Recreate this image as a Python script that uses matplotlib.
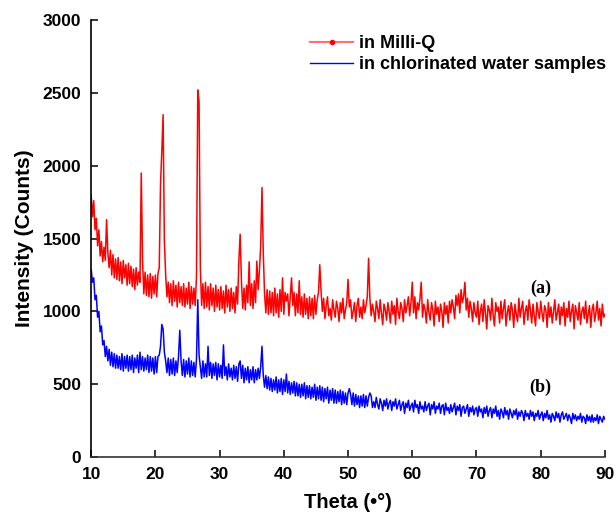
#!/usr/bin/env python3
"""XRD patterns: sample in Milli-Q vs in chlorinated water samples."""

import matplotlib

matplotlib.use("Agg")
import matplotlib.pyplot as plt
from matplotlib.lines import Line2D
import numpy as np

plt.rcParams["font.family"] = ["Liberation Sans", "DejaVu Sans"]

# 2-theta grid of the scan, 0.2 degree step from 10 to 90
THETA_START, THETA_STOP, THETA_STEP = 10.0, 90.0, 0.2

# (a) in Milli-Q, counts, one row = 2 degrees
milliq = [
    1800, 1650, 1760, 1560, 1640, 1450, 1560, 1380, 1480, 1340,
    1440, 1350, 1630, 1400, 1300, 1420, 1250, 1390, 1230, 1360,
    1220, 1370, 1210, 1340, 1190, 1350, 1230, 1320, 1180, 1330,
    1190, 1310, 1170, 1290, 1150, 1300, 1180, 1270, 1200, 1950,
    1350, 1120, 1270, 1110, 1250, 1100, 1260, 1090, 1240, 1120,
    1250, 1100, 1260, 1300, 1870, 2100, 2350, 1480, 1250, 1100,
    1200, 1060, 1190, 1040, 1210, 1070, 1180, 1030, 1200, 1060,
    1170, 1040, 1190, 1030, 1160, 1050, 1200, 1020, 1170, 1050,
    1160, 1040, 1240, 2520, 2440, 1300, 1040, 1190, 1020, 1200,
    1030, 1170, 1010, 1190, 1040, 1160, 1000, 1180, 1030, 1150,
    1010, 1170, 1020, 1140, 990, 1180, 1030, 1150, 1000, 1160,
    1020, 1130, 990, 1170, 1050, 1350, 1530, 1210, 1020, 1160,
    1010, 1180, 1060, 1340, 1040, 1190, 1020, 1210, 1060, 1345,
    1150, 1280, 1450, 1850, 1400, 1120, 990, 1150, 980, 1140,
    990, 1130, 970, 1160, 990, 1120, 960, 1150, 1000, 1230,
    980, 1130, 1070, 1120, 970, 1100, 1230, 1040, 1130, 970,
    1120, 990, 1210, 980, 1100, 960, 1120, 980, 1090, 950,
    1100, 970, 1090, 950, 1110, 980, 1080, 1130, 1320, 1140,
    1000, 1090, 950, 1040, 1100, 970, 1020, 940, 1080, 1010,
    960, 1070, 1020, 930, 1060, 990, 1090, 950, 1010, 1060,
    1220, 1030, 1080, 950, 1000, 1060, 930, 1040, 1090, 960,
    1030, 950, 1080, 990, 1040, 1100, 1365, 1090, 970, 1050,
    1000, 930, 1070, 1020, 950, 1080, 990, 910, 1050, 1010,
    940, 1060, 1000, 920, 1070, 980, 1040, 910, 1090, 1000,
    950, 1060, 1020, 930, 1080, 990, 1040, 1100, 970, 1060,
    1200, 990, 1100, 950, 1060, 1010, 1090, 1200, 960, 1050,
    1010, 920, 1080, 990, 940, 1060, 1010, 900, 1070, 980,
    1030, 930, 1050, 1000, 890, 1060, 980, 1040, 920, 1070,
    990, 1080, 1030, 950, 1110, 1040, 1120, 990, 1150, 1060,
    1100, 1200, 1010, 1090, 960, 1070, 1020, 930, 1060, 990,
    960, 1070, 910, 1000, 1050, 930, 1080, 990, 880, 1040,
    1010, 940, 1090, 970, 900, 1060, 1000, 1030, 920, 1070,
    950, 1020, 1080, 900, 990, 1040, 940, 1060, 1010, 890,
    1050, 980, 930, 1090, 960, 1020, 1070, 910, 1000, 1040,
    940, 1080, 1010, 920, 1050, 970, 900, 1060, 1000, 950,
    1070, 990, 930, 1040, 1010, 890, 1060, 960, 1030, 920,
    1000, 1080, 940, 990, 1050, 910, 1030, 970, 1060, 900,
    1020, 960, 1070, 930, 1000, 1050, 880, 1040, 990, 940,
    1060, 910, 1000, 1030, 950, 1070, 920, 980, 1040, 890,
    1010, 1050, 930, 990, 1070, 940, 1020, 900, 1050, 960,
    980,
]

# (b) in chlorinated water samples
chlorinated = [
    1290, 1200, 1230, 1080, 1110, 960, 1000, 860, 900, 770,
    800, 690, 760, 660, 740, 630, 720, 620, 710, 610,
    700, 610, 690, 600, 710, 590, 690, 610, 700, 590,
    690, 600, 700, 580, 680, 610, 700, 580, 720, 600,
    690, 590, 680, 600, 700, 580, 690, 590, 680, 570,
    690, 580, 690, 700, 760, 910, 880, 720, 660, 580,
    680, 560, 670, 570, 680, 560, 660, 580, 690, 870,
    660, 560, 670, 550, 660, 570, 680, 550, 660, 560,
    650, 550, 670, 1080, 700, 620, 540, 660, 550, 640,
    550, 760, 560, 650, 540, 640, 560, 650, 530, 640,
    550, 630, 540, 770, 560, 620, 530, 640, 550, 610,
    530, 630, 540, 620, 520, 640, 660, 540, 630, 510,
    610, 530, 620, 510, 600, 530, 620, 510, 600, 530,
    610, 540, 620, 760, 560, 480, 560, 470, 550, 460,
    540, 450, 530, 460, 550, 440, 530, 450, 540, 430,
    530, 450, 570, 440, 520, 430, 510, 440, 520, 420,
    510, 420, 500, 410, 500, 420, 510, 400, 490, 410,
    490, 400, 480, 410, 500, 390, 480, 400, 490, 390,
    480, 380, 470, 400, 480, 370, 460, 390, 470, 370,
    460, 370, 450, 380, 460, 360, 450, 370, 440, 360,
    440, 470, 430, 360, 440, 350, 430, 360, 420, 340,
    420, 350, 430, 340, 420, 350, 410, 440, 420, 340,
    380, 340, 410, 360, 330, 400, 370, 320, 390, 350,
    400, 330, 370, 390, 320, 380, 350, 400, 330, 360,
    390, 320, 360, 380, 300, 370, 340, 390, 320, 350,
    370, 310, 390, 340, 360, 300, 380, 330, 350, 310,
    380, 320, 350, 370, 290, 360, 330, 380, 300, 350,
    330, 370, 300, 350, 360, 290, 370, 320, 340, 300,
    360, 310, 340, 370, 290, 350, 320, 360, 280, 340,
    350, 300, 330, 360, 280, 340, 310, 350, 290, 330,
    340, 280, 350, 310, 330, 270, 340, 300, 350, 280,
    320, 340, 270, 330, 300, 350, 280, 320, 260, 330,
    310, 270, 340, 290, 320, 260, 330, 300, 270, 320,
    290, 330, 260, 310, 280, 320, 300, 250, 320, 280,
    300, 260, 320, 280, 310, 250, 300, 280, 320, 260,
    290, 310, 250, 300, 270, 320, 260, 290, 240, 300,
    280, 250, 310, 270, 300, 240, 290, 310, 260, 280,
    300, 250, 290, 270, 230, 300, 260, 290, 250, 280,
    260, 300, 240, 280, 270, 230, 290, 250, 280, 240,
    290, 240, 270, 250, 290, 230, 280, 260, 240, 280,
    260,
]

legend_labels = ["in Milli-Q", "in chlorinated water samples"]
curve_tags = ["(a)", "(b)"]
tag_positions = [(80.0, 1160), (80.0, 480)]
x_ticks = [10, 20, 30, 40, 50, 60, 70, 80, 90]
y_ticks = [0, 500, 1000, 1500, 2000, 2500, 3000]


def main() -> int:
    theta = np.arange(len(milliq)) * THETA_STEP + THETA_START

    fig = plt.figure(figsize=(6.16, 5.13), dpi=100)
    ax = fig.add_axes([0.148, 0.109, 0.834, 0.852])

    ax.plot(theta, milliq, color="#ff0000", linewidth=1.1)
    ax.plot(theta, chlorinated, color="#0000ff", linewidth=1.1)

    ax.set_xlim(THETA_START, THETA_STOP)
    ax.set_ylim(0, 3000)
    ax.set_xticks(x_ticks)
    ax.set_yticks(y_ticks)
    ax.tick_params(direction="in", length=5, width=1.1, labelsize=12.5)
    ax.tick_params(axis="x", pad=7)
    ax.tick_params(axis="y", pad=7)
    for label in ax.get_xticklabels() + ax.get_yticklabels():
        label.set_fontweight("bold")
    ax.spines["top"].set_visible(False)
    ax.spines["right"].set_visible(False)
    ax.spines["left"].set_linewidth(1.2)
    ax.spines["bottom"].set_linewidth(1.2)
    ax.spines["bottom"].set_color("#333333")

    ax.set_xlabel("Theta (•°)", fontsize=14.5, fontweight="bold", labelpad=8)
    ax.set_ylabel("Intensity (Counts)", fontsize=15, fontweight="bold", labelpad=6)

    for tag, (x, y) in zip(curve_tags, tag_positions):
        ax.text(x, y, tag, ha="center", va="center", fontsize=13,
                fontweight="bold", family="Liberation Serif")

    handles = [
        Line2D([], [], color="#ff7070", linewidth=1.5, marker="o", markersize=3,
               markerfacecolor="#ff0000", markeredgecolor="#ff0000"),
        Line2D([], [], color="#0000ff", linewidth=1.0),
    ]
    legend = ax.legend(handles, legend_labels, loc="upper left", bbox_to_anchor=(0.405, 0.99),
                       frameon=False, handlelength=2.4, handletextpad=0.3,
                       labelspacing=0.2, borderaxespad=0.2, fontsize=13)
    for text in legend.get_texts():
        text.set_fontweight("bold")

    fig.savefig("out.png", dpi=100)
    plt.close(fig)
    return 0


if __name__ == "__main__":
    raise SystemExit(main())
